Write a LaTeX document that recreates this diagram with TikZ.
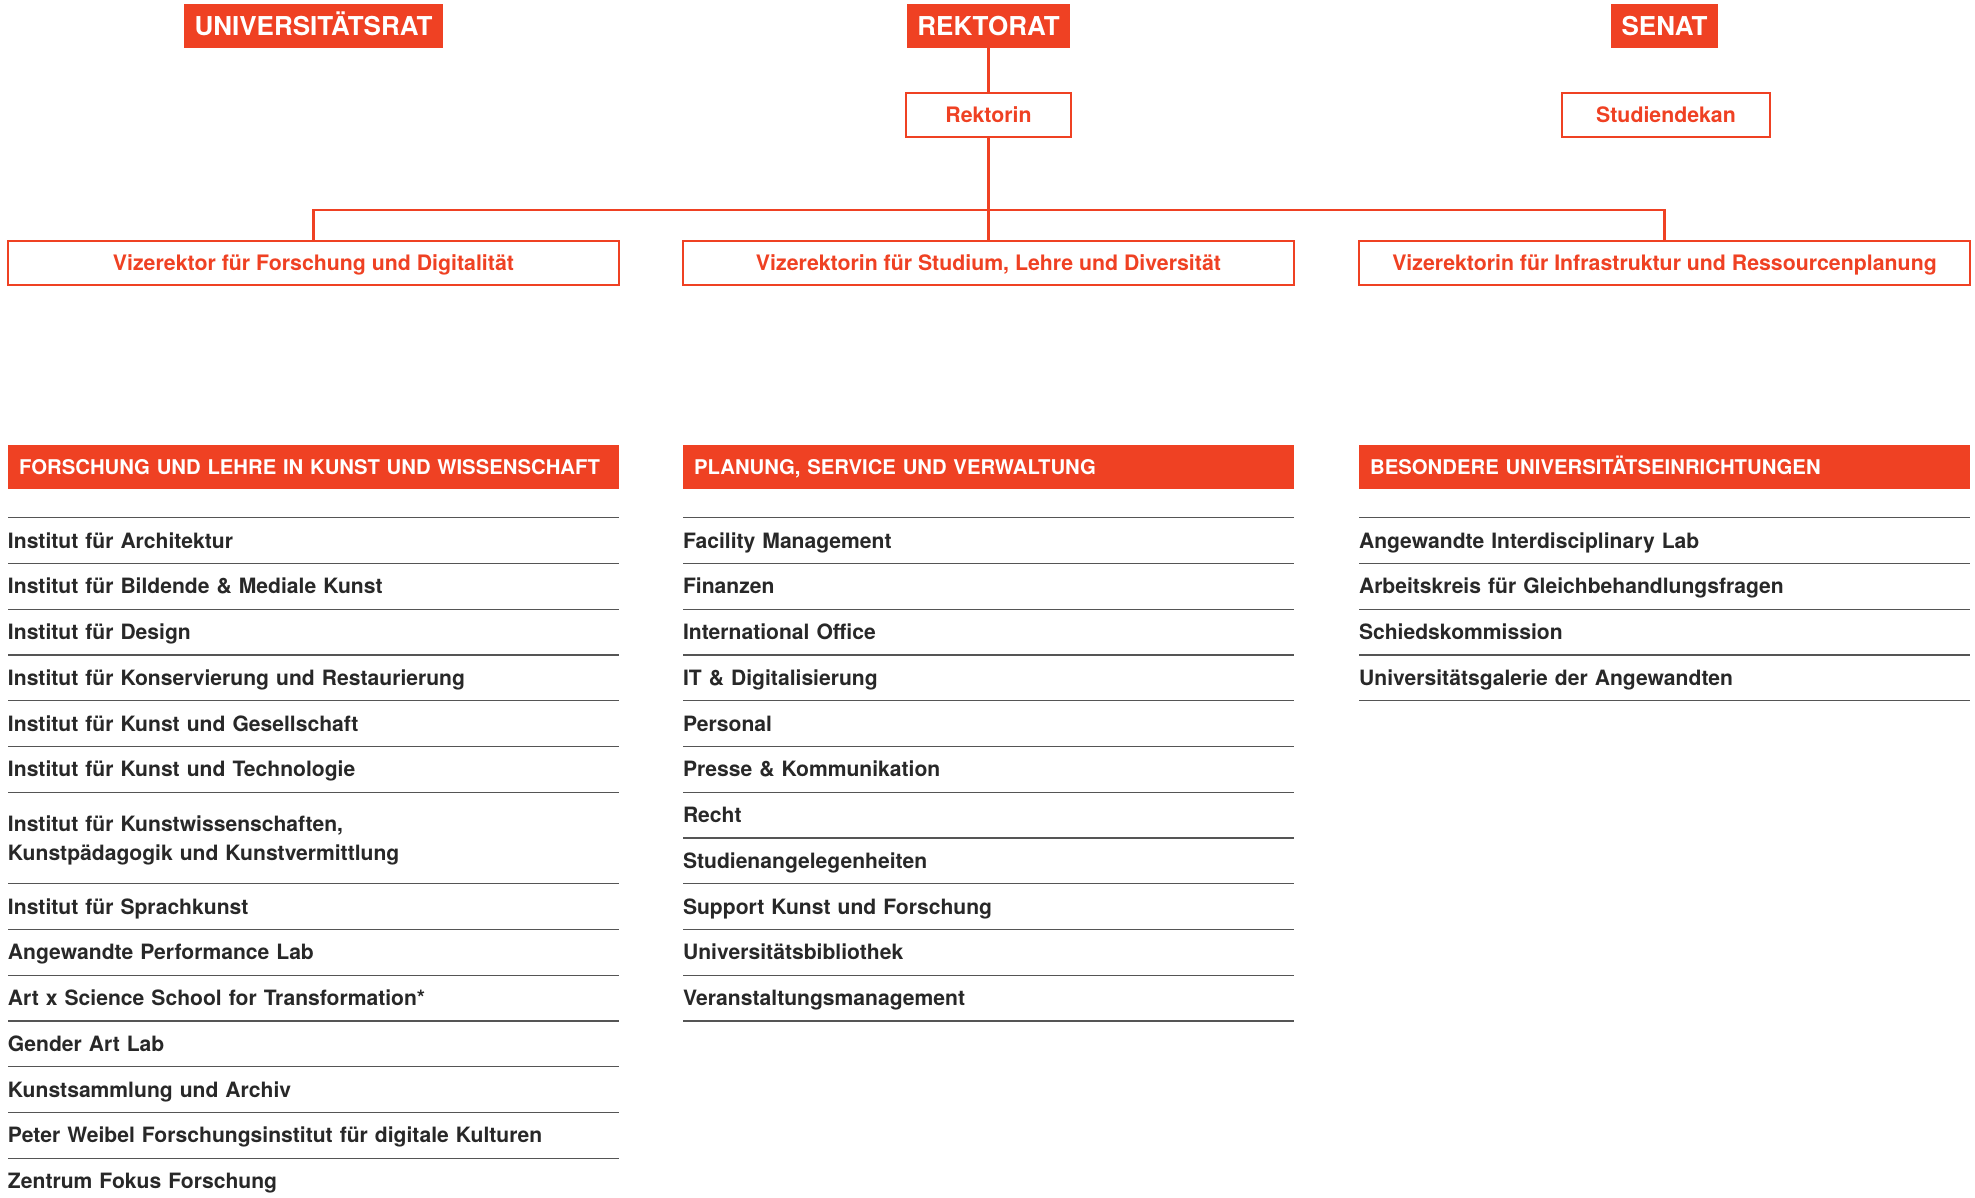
\documentclass[tikz,border=0pt]{standalone}
\usepackage{fontspec}
\setmainfont{TeX Gyre Heros}
\usepackage{xcolor}
\usepackage{tikz}
\usetikzlibrary{
  positioning,
  calc
}

\definecolor{angred}{RGB}{239,65,35}
\definecolor{angtext}{RGB}{40,40,40}
\definecolor{angrule}{RGB}{85,85,85}

\tikzset{
  titlebox/.style={fill=angred, text=white, font=\fontsize{26}{30}\selectfont\bfseries,
    minimum height=44pt, inner xsep=10.5pt, text height=18.7pt, text depth=0pt},
  personbox/.style={draw=angred, line width=2.2pt, text=angred,
    font=\fontsize{21.3}{28}\selectfont\bfseries,
    minimum height=44pt, text height=15.3pt, text depth=0pt},
  headbar/.style={fill=angred, text=white, font=\fontsize{20.3}{26}\selectfont\bfseries,
    minimum height=44pt, text width=589pt, inner xsep=11pt, align=left,
    text height=14.6pt, text depth=0pt, anchor=north west},
  listitem/.style={text=angtext, font=\fontsize{21.1}{29}\selectfont\bfseries,
    text width=611pt, inner xsep=0pt, outer sep=0pt, align=left, minimum height=45.75pt,
    text height=15.2pt, text depth=0pt},
  listitemtwo/.style={listitem, minimum height=91.5pt, text depth=29pt},
  conn/.style={draw=angred, line width=2.2pt},
  itemrule/.style={draw=angrule, line width=1.3pt}
}

\begin{document}
\begin{tikzpicture}[x=1pt, y=-1pt]
  \useasboundingbox (0,0) rectangle (1975,1198);

  % 上段の見出し
  \node[titlebox] (univrat) at (313.5,26) {UNIVERSITÄTSRAT};
  \node[titlebox] (rektorat) at (988.5,26) {REKTORAT};
  \node[titlebox] (senat) at (1664.5,26) {SENAT};

  % 人物の枠
  \node[personbox, minimum width=165pt] (rektorin) at (988.5,115) {Rektorin};
  \node[personbox, minimum width=208pt] (dekan) at (1666,115) {Studiendekan};
  \node[personbox, minimum width=611pt] (vize1) at (313.5,263) {Vizerektor für Forschung und Digitalität};
  \node[personbox, minimum width=611pt] (vize2) at (988.5,263) {Vizerektorin für Studium, Lehre und Diversität};
  \node[personbox, minimum width=611pt] (vize3) at (1664.5,263) {Vizerektorin für Infrastruktur und Ressourcenplanung};

  % 線で結ぶ
  \draw[conn] (rektorat) -- (rektorin);
  \draw[conn] (rektorin) -- (vize2);
  \draw[conn] (vize1.north) -- ++(0,-30) -| (vize3.north);

  % 三つの列の見出し
  \node[headbar] (forschung) at (8,445) {FORSCHUNG UND LEHRE IN KUNST UND WISSENSCHAFT};
  \node[headbar] (planung) at (683,445) {PLANUNG, SERVICE UND VERWALTUNG};
  \node[headbar] (besondere) at (1359,445) {BESONDERE UNIVERSITÄTSEINRICHTUNGEN};

  % 左の列
  \coordinate (f0) at (313.5,517.7);
  \foreach \txt/\sty [count=\i, remember=\i as \j (initially 0)] in {
    Institut für Architektur/listitem,
    Institut für Bildende \& Mediale Kunst/listitem,
    Institut für Design/listitem,
    Institut für Konservierung und Restaurierung/listitem,
    Institut für Kunst und Gesellschaft/listitem,
    Institut für Kunst und Technologie/listitem,
    {Institut für Kunstwissenschaften,\\Kunstpädagogik und Kunstvermittlung}/listitemtwo,
    Institut für Sprachkunst/listitem,
    Angewandte Performance Lab/listitem,
    Art x Science School for Transformation*/listitem,
    Gender Art Lab/listitem,
    Kunstsammlung und Archiv/listitem,
    Peter Weibel Forschungsinstitut für digitale Kulturen/listitem,
    Zentrum Fokus Forschung/listitem}
  {
    \node[\sty, below=0pt of f\j] (f\i) {\txt};
    \draw[itemrule] (f\i.north west) -- (f\i.north east);
  }

  % 中央の列
  \coordinate (p0) at (988.5,517.7);
  \foreach \txt [count=\i, remember=\i as \j (initially 0)] in {
    Facility Management, Finanzen, International Office,
    IT \& Digitalisierung, Personal, Presse \& Kommunikation, Recht,
    Studienangelegenheiten, Support Kunst und Forschung,
    Universitätsbibliothek, Veranstaltungsmanagement}
  {
    \node[listitem, below=0pt of p\j] (p\i) {\txt};
    \draw[itemrule] (p\i.north west) -- (p\i.north east);
  }
  \draw[itemrule] (p11.south west) -- (p11.south east);

  % 右の列
  \coordinate (b0) at (1664.5,517.7);
  \foreach \txt [count=\i, remember=\i as \j (initially 0)] in {
    Angewandte Interdisciplinary Lab,
    Arbeitskreis für Gleichbehandlungsfragen,
    Schiedskommission,
    Universitätsgalerie der Angewandten}
  {
    \node[listitem, below=0pt of b\j] (b\i) {\txt};
    \draw[itemrule] (b\i.north west) -- (b\i.north east);
  }
  \draw[itemrule] (b4.south west) -- (b4.south east);
\end{tikzpicture}
\end{document}
